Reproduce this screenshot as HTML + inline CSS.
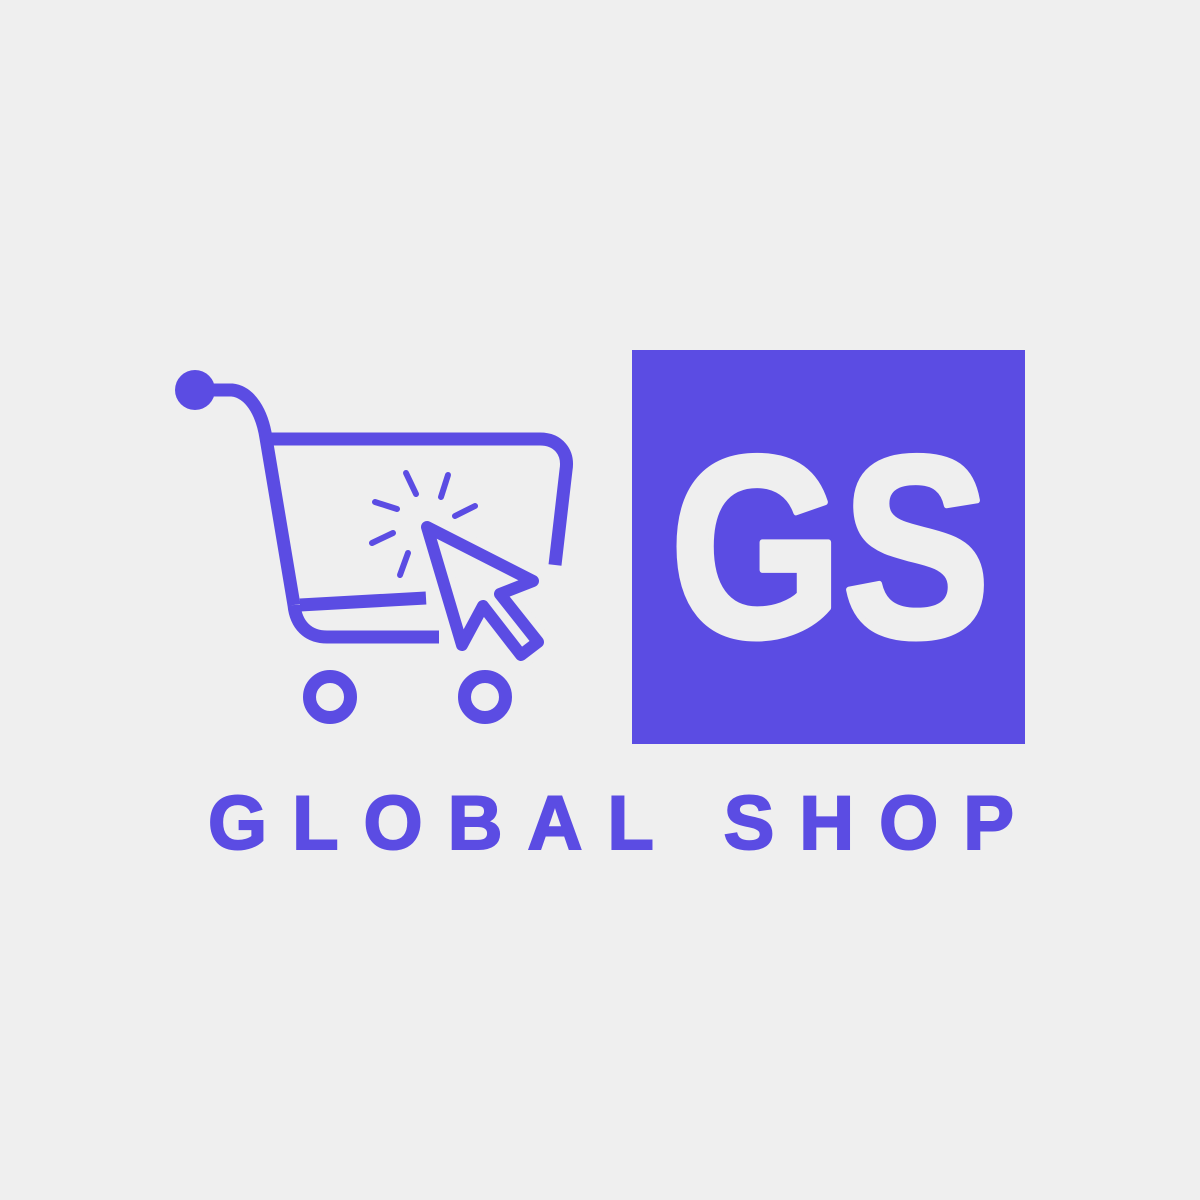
<!DOCTYPE html>
<html><head><meta charset="utf-8"><style>
html,body{margin:0;padding:0;background:#efefef;width:1200px;height:1200px;overflow:hidden}
svg{display:block}
</style></head><body>
<svg width="1200" height="1200" viewBox="0 0 1200 1200">
<rect width="1200" height="1200" fill="#efefef"/>
<g fill="none" stroke="#5b4ce3" stroke-width="13">
<circle cx="195" cy="390" r="20" fill="#5b4ce3" stroke="none"/>
<path d="M205 390 H232 C250 392 262 412 266 438 L294 605"/>
<path d="M266 439 H540 C558 439 569 452 566 470 L555 565"/>
<path d="M300 605 L426 598"/>
<path d="M294 605 C296 625 308 637 327 637 H439"/>
<circle cx="330" cy="697" r="20.5"/>
<circle cx="485" cy="697" r="20.5"/>
</g>
<polygon points="427,527 533,581 500,594 538,642 521,655 483,606 462,645" fill="#efefef" stroke="#efefef" stroke-width="26" stroke-linejoin="round"/>
<polygon points="427,527 533,581 500,594 538,642 521,655 483,606 462,645" fill="none" stroke="#5b4ce3" stroke-width="12" stroke-linejoin="round"/>
<g stroke="#5b4ce3" stroke-width="6" stroke-linecap="round">
<line x1="406" y1="473" x2="416" y2="494"/>
<line x1="448" y1="475" x2="441" y2="497"/>
<line x1="375" y1="502" x2="397" y2="509"/>
<line x1="475" y1="506" x2="455" y2="516"/>
<line x1="393" y1="533" x2="372" y2="543"/>
<line x1="408" y1="553" x2="400" y2="575"/>
</g>
<rect x="632" y="350" width="393" height="394" fill="#5b4ce3"/>
<text x="670" y="636" font-family="Liberation Sans, sans-serif" font-weight="bold" font-size="258" fill="#efefef" stroke="#efefef" stroke-width="6" stroke-linejoin="round" textLength="320" lengthAdjust="spacingAndGlyphs">GS</text>
<text x="208" y="849" font-family="Liberation Sans, sans-serif" font-weight="bold" font-size="76" fill="#5b4ce3" stroke="#5b4ce3" stroke-width="2" textLength="806" lengthAdjust="spacing">GLOBAL SHOP</text>
</svg>
</body></html>
